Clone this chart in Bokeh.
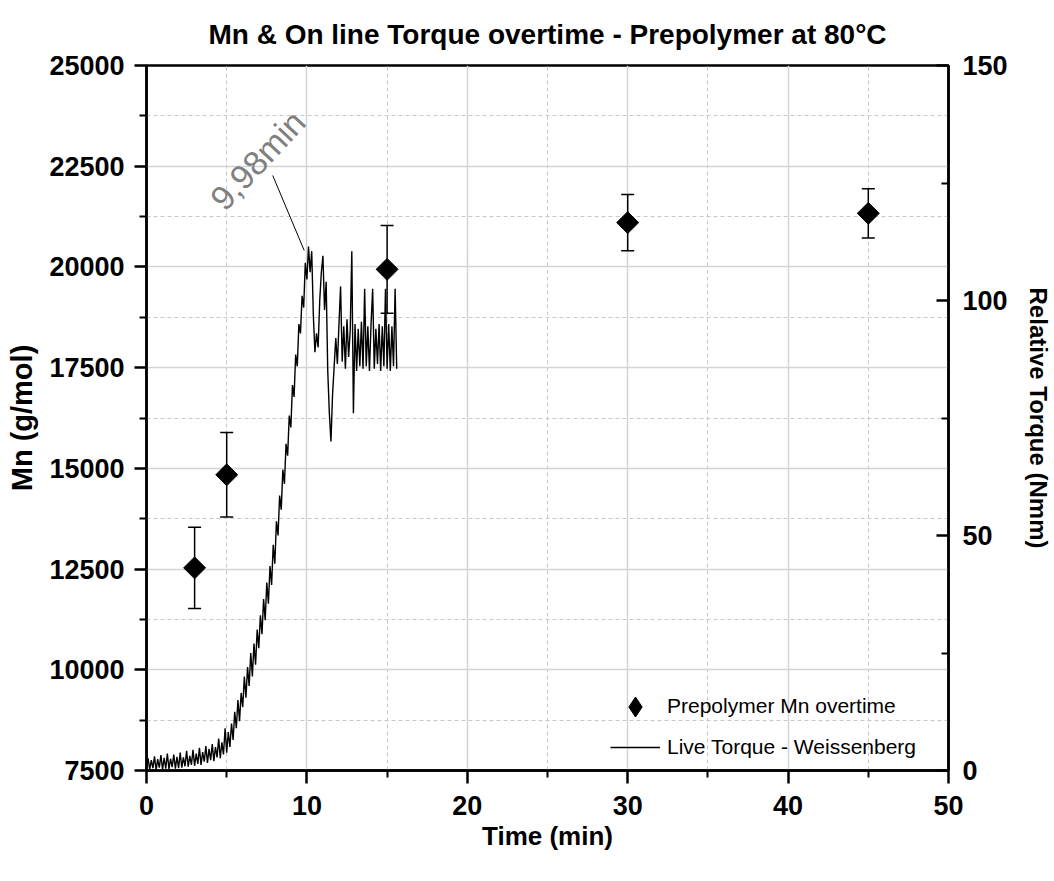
import math
from bokeh.plotting import figure
from bokeh.models import (Range1d, LinearAxis, FixedTicker, ColumnDataSource, Whisker,
                          TeeHead, Legend, LegendItem)
from bokeh.core.properties import value
from bokeh.embed import file_html
from bokeh.resources import INLINE

# ---------------- data ----------------
time_min = [0.0, 0.1, 0.2, 0.3, 0.4, 0.5, 0.6, 0.7, 0.8, 0.9,
            1.0, 1.1, 1.2, 1.3, 1.4, 1.5, 1.6, 1.7, 1.8, 1.9,
            2.0, 2.1, 2.2, 2.3, 2.4, 2.5, 2.6, 2.7, 2.8, 2.9,
            3.0, 3.1, 3.2, 3.3, 3.4, 3.5, 3.6, 3.7, 3.8, 3.9,
            4.0, 4.1, 4.2, 4.3, 4.4, 4.5, 4.6, 4.7, 4.8, 4.9,
            5.0, 5.1, 5.2, 5.3, 5.4, 5.5, 5.6, 5.7, 5.8, 5.9,
            6.0, 6.1, 6.2, 6.3, 6.4, 6.5, 6.6, 6.7, 6.8, 6.9,
            7.0, 7.1, 7.2, 7.3, 7.4, 7.5, 7.6, 7.7, 7.8, 7.9,
            8.0, 8.1, 8.2, 8.3, 8.4, 8.5, 8.6, 8.7, 8.8, 8.9,
            9.0, 9.1, 9.2, 9.3, 9.4, 9.5, 9.6, 9.7, 9.8, 9.9,
            10.0, 10.1, 10.2, 10.3, 10.4, 10.5, 10.6, 10.7, 10.8, 10.9,
            11.0, 11.1, 11.2, 11.3, 11.4, 11.5, 11.6, 11.7, 11.8, 11.9,
            12.0, 12.1, 12.2, 12.3, 12.4, 12.5, 12.6, 12.7, 12.8, 12.9,
            13.0, 13.1, 13.2, 13.3, 13.4, 13.5, 13.6, 13.7, 13.8, 13.9,
            14.0, 14.1, 14.2, 14.3, 14.4, 14.5, 14.6, 14.7, 14.8, 14.9,
            15.0, 15.1, 15.2, 15.3, 15.4, 15.5, 15.6]
torque_nmm = [0.3, 2.6, 0.2, 2.2, 0.5, 3.0, 0.1, 2.4, 0.6, 3.3,
              0.2, 2.7, 0.4, 3.6, 0.3, 2.5, 0.7, 3.4, 0.4, 2.9,
              0.5, 3.8, 0.6, 2.8, 0.9, 4.2, 0.8, 3.1, 1.2, 4.4,
              1.0, 3.6, 1.4, 4.8, 1.2, 3.9, 1.9, 5.2, 1.6, 4.6,
              2.2, 5.6, 2.0, 5.0, 2.8, 6.8, 2.6, 6.0, 3.4, 9.0,
              3.8, 8.2, 5.0, 10.0, 6.5, 12.5, 9.0, 15.0, 10.5, 16.5,
              13.5, 20.0, 15.5, 22.0, 18.0, 25.0, 20.0, 27.0, 22.5, 30.0,
              26.0, 33.0, 29.0, 36.5, 32.0, 40.0, 35.5, 43.5, 39.5, 48.0,
              44.0, 53.0, 50.0, 58.5, 55.5, 64.0, 61.0, 69.5, 67.0, 75.5,
              73.0, 82.0, 79.5, 88.5, 86.0, 95.0, 93.0, 101.0, 98.5, 108.0,
              104.5, 111.5, 106.0, 110.5, 97.0, 89.0, 93.0, 90.0, 100.0, 106.0,
              109.5, 98.0, 104.0, 85.0, 76.0, 70.0, 80.0, 86.0, 92.0, 86.5,
              95.0, 103.0, 87.0, 94.5, 85.5, 96.0, 88.0, 93.5, 110.5, 76.0,
              95.0, 85.0, 94.0, 86.0, 95.5, 85.5, 102.5, 86.0, 94.5, 85.0,
              95.0, 102.5, 85.5, 94.0, 86.5, 95.0, 85.0, 94.5, 86.0, 102.5,
              85.5, 95.0, 85.0, 94.5, 86.0, 102.5, 85.5]

mn_time = [3, 5, 15, 30, 45]
mn_values = [12530, 14840, 19940, 21100, 21330]
mn_error = [1010, 1050, 1090, 700, 610]

x_major = [0, 10, 20, 30, 40, 50]
x_minor = [5, 15, 25, 35, 45]
y_major = [7500, 10000, 12500, 15000, 17500, 20000, 22500, 25000]
y_minor = [8750, 11250, 13750, 16250, 18750, 21250, 23750]
t_major = [0, 50, 100, 150]
t_minor = [25, 75, 125]

annot_text = "9,98min"
annot_pos = (6.93, 22650)
annot_line = ((7.87, 22270), (9.83, 20410))

title_text = "Mn & On line Torque overtime - Prepolymer at 80\u00b0C"
legend_labels = ["Prepolymer Mn overtime", "Live Torque - Weissenberg"]

FONT = "Liberation Sans"

# ---------------- figure ----------------
p = figure(width=1054, height=881, output_backend="svg", toolbar_location=None,
           x_range=Range1d(0, 50), y_range=Range1d(7500, 25000),
           min_border_left=146, min_border_right=106, min_border_top=65,
           min_border_bottom=111, background_fill_color="white",
           border_fill_color="white", title=title_text)

p.title.text_font = FONT
p.title.text_font_size = "28px"
p.title.text_font_style = "bold"
p.title.text_color = "black"
p.title.align = "center"
p.title.standoff = 32

p.outline_line_color = "black"
p.outline_line_width = 2.5

p.extra_y_ranges = {"torque": Range1d(0, 150)}

# grids
for g in (p.xgrid, p.ygrid):
    g.grid_line_color = "#d4d4d4"
    g.grid_line_width = 1.5
    g.minor_grid_line_color = "#c8c8c8"
    g.minor_grid_line_width = 1
    g.minor_grid_line_dash = "4 3"

xax = p.xaxis[0]
xax.ticker = FixedTicker(ticks=x_major, minor_ticks=x_minor)
yax = p.yaxis[0]
yax.ticker = FixedTicker(ticks=y_major, minor_ticks=y_minor)

rax = LinearAxis(y_range_name="torque", ticker=FixedTicker(ticks=t_major, minor_ticks=t_minor),
                 axis_label="Relative Torque (Nmm)")
p.add_layout(rax, "right")

xax.axis_label = "Time (min)"
yax.axis_label = "Mn (g/mol)"

for ax in (xax, yax, rax):
    ax.axis_line_color = "black"
    ax.axis_line_width = 2.5
    ax.major_tick_line_color = "black"
    ax.major_tick_line_width = 2.5
    ax.minor_tick_line_color = "black"
    ax.minor_tick_line_width = 2
    ax.major_label_text_font = FONT
    ax.major_label_text_font_style = "bold"
    ax.major_label_text_font_size = "27px"
    ax.major_label_text_color = "black"
    ax.axis_label_text_font = FONT
    ax.axis_label_text_font_style = "bold"
    ax.axis_label_text_color = "black"

xax.major_tick_out = 13; xax.major_tick_in = 0
xax.minor_tick_out = 7; xax.minor_tick_in = 0
xax.major_label_standoff = 12
xax.axis_label_text_font_size = "26px"
xax.axis_label_standoff = 3

yax.major_tick_out = 12; yax.major_tick_in = 0
yax.minor_tick_out = 7; yax.minor_tick_in = 0
yax.major_label_standoff = 10
yax.axis_label_text_font_size = "29px"
yax.axis_label_standoff = 8

rax.major_tick_out = 0; rax.major_tick_in = 12
rax.minor_tick_out = 0; rax.minor_tick_in = 7
rax.major_label_standoff = 14
rax.axis_label_text_font_size = "24px"
rax.axis_label_standoff = 14

# ---------------- glyphs ----------------
torque_src = ColumnDataSource(dict(t=time_min, torque=torque_nmm))
line_r = p.line("t", "torque", source=torque_src, y_range_name="torque",
                line_color="black", line_width=1.4)

mn_src = ColumnDataSource(dict(
    t=mn_time, mn=mn_values,
    upper=[v + e for v, e in zip(mn_values, mn_error)],
    lower=[v - e for v, e in zip(mn_values, mn_error)]))

whisk = Whisker(base="t", upper="upper", lower="lower", source=mn_src,
                line_color="black", line_width=1.5,
                upper_head=TeeHead(size=13, line_color="black", line_width=1.5),
                lower_head=TeeHead(size=13, line_color="black", line_width=1.5))
p.add_layout(whisk)

pts = p.scatter("t", "mn", source=mn_src, marker="square", size=15.5, angle=math.pi / 4,
                fill_color="black", line_color="black")

# legend swatch for the Mn points: same data, renderer hidden in the plot
# (the legend ignores marker rotation, so a diamond marker is used for the swatch)
legend_swatch = p.scatter("t", "mn", source=mn_src, marker="diamond",
                          fill_color="black", line_color="black", visible=False)

# annotation
p.segment(x0=[annot_line[0][0]], y0=[annot_line[0][1]], x1=[annot_line[1][0]],
          y1=[annot_line[1][1]], line_color="black", line_width=1)
p.text(x=[annot_pos[0]], y=[annot_pos[1]], text=[annot_text], angle=math.radians(47),
       text_font=value(FONT), text_font_size="34px", text_color="#808080",
       text_align="center", text_baseline="middle")

common = dict(orientation="vertical", glyph_width=50, spacing=0, label_standoff=7,
              padding=0, margin=0, label_text_font=FONT, label_text_font_size="21px",
              label_text_color="black", border_line_alpha=0, background_fill_alpha=0,
              click_policy="none", inactive_fill_alpha=0)

legend1 = Legend(items=[LegendItem(label=legend_labels[0], renderers=[legend_swatch])],
                 location=(464, 36.5), glyph_height=55, label_height=55, **common)
legend2 = Legend(items=[LegendItem(label=legend_labels[1], renderers=[line_r])],
                 location=(464, 6), glyph_height=34, label_height=34, **common)
p.add_layout(legend1)
p.add_layout(legend2)

open("out.html", "w").write(file_html(p, INLINE))
